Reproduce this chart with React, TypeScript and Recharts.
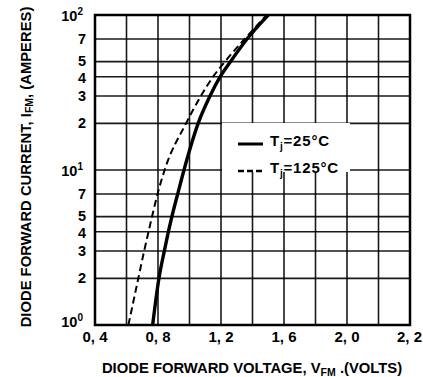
import React from 'react';
import { LineChart, Line, XAxis, YAxis, CartesianGrid, ReferenceArea, Legend, Label } from 'recharts';

// forward voltage (V) read at each current grid line
const currents = [1, 2, 3, 4, 5, 7, 10, 20, 30, 40, 50, 70, 100];
const tj25Voltage = [0.766, 0.806, 0.84, 0.866, 0.888, 0.925, 0.965, 1.055, 1.13, 1.195, 1.26, 1.365, 1.5];
const tj125Voltage = [0.612, 0.675, 0.712, 0.74, 0.762, 0.797, 0.842, 0.978, 1.072, 1.15, 1.225, 1.35, 1.49];

const xTicks = [0.4, 0.6, 0.8, 1.0, 1.2, 1.4, 1.6, 1.8, 2.0, 2.2, 2.4];
const xLabels: Record<string, string> = { '0.4': '0, 4', '0.8': '0, 8', '1.2': '1, 2', '1.6': '1, 6', '2': '2, 0', '2.4': '2, 2' };
const yTicks = [1, 2, 3, 4, 5, 7, 10, 20, 30, 40, 50, 70, 100];

const FONT = '"Liberation Sans", Arial, Helvetica, sans-serif';

const toRows = (volts: number[]) => volts.map((v, i) => ({ v, i: currents[i] }));
const tj25Data = toRows(tj25Voltage);
const tj125Data = toRows(tj125Voltage);

const XTick = (props: any) => {
    const { x, y, payload } = props;
    const key = String(Number(payload.value.toFixed(1)));
    const text = xLabels[key];
    if (!text) return null;
    const last = key === '2.4';
    return (
        <text
            x={last ? 422 : x}
            y={y + 17}
            textAnchor={last ? 'end' : 'middle'}
            fontFamily={FONT}
            fontSize={15}
            fontWeight="bold"
            fill="#000"
        >
            {text}
        </text>
    );
};

const YTick = (props: any) => {
    const { x, y, payload } = props;
    const val = payload.value;
    const exps: Record<number, string> = { 1: '0', 10: '1', 100: '2' };
    if (exps[val] !== undefined) {
        const shift = val === 1 ? -3 : 1;
        return (
            <text x={x - 12} y={y + 5 + shift} textAnchor="end" fontFamily={FONT} fontSize={14.5} fontWeight="bold" fill="#000">
                <tspan>10</tspan>
                <tspan dy={-6} fontSize={10}>{exps[val]}</tspan>
            </text>
        );
    }
    const nudge = val === 5 || val === 50 ? -1 : val === 4 || val === 40 ? 1.5 : 0;
    return (
        <text x={x - 9} y={y + 5 + nudge} textAnchor="end" fontFamily={FONT} fontSize={14.5} fontWeight="bold" fill="#000">
            {String(val)[0]}
        </text>
    );
};

const legendText: React.CSSProperties = { marginLeft: 7, letterSpacing: 0.8 };

const renderLegend = () => (
    <div style={{ fontFamily: FONT, fontSize: 15, fontWeight: 'bold', color: '#000', lineHeight: '21px', paddingTop: 7 }}>
        <div style={{ display: 'flex', alignItems: 'center' }}>
            <svg width={41} height={8}>
                <line x1={16} y1={4} x2={41} y2={4} stroke="#000" strokeWidth={3} />
            </svg>
            <span style={legendText}>T<sub style={{ fontSize: 10 }}>j</sub>=25°C</span>
        </div>
        <div style={{ display: 'flex', alignItems: 'center' }}>
            <svg width={41} height={8}>
                <line x1={16} y1={4} x2={41} y2={4} stroke="#000" strokeWidth={2.5} strokeDasharray="6 3" />
            </svg>
            <span style={legendText}>T<sub style={{ fontSize: 10 }}>j</sub>=125°C</span>
        </div>
    </div>
);

const App: React.FC = () => {
    return (
        <div style={{ position: 'fixed', left: 0, top: 0, width: 423, height: 377, overflow: 'hidden', background: '#fff' }}>
            <LineChart width={423} height={377} margin={{ top: 15, right: 13, left: 35, bottom: 22 }}>
                <CartesianGrid stroke="#000" strokeWidth={1.6} strokeOpacity={0.9} />
                <XAxis
                    dataKey="v"
                    type="number"
                    domain={[0.4, 2.4]}
                    ticks={xTicks}
                    interval={0}
                    allowDataOverflow
                    height={30}
                    tickSize={0}
                    tickMargin={0}
                    axisLine={false}
                    tick={<XTick />}
                >
                    <Label
                        content={() => (
                            <text x={252} y={373} textAnchor="middle" fontFamily={FONT} fontSize={14.8} fontWeight="bold" fill="#000">
                                <tspan>DIODE FORWARD VOLTAGE, V</tspan>
                                <tspan dy={3} fontSize={10.5}>FM</tspan>
                                <tspan dy={-3}> .(VOLTS)</tspan>
                            </text>
                        )}
                    />
                </XAxis>
                <YAxis
                    dataKey="i"
                    type="number"
                    scale="log"
                    domain={[1, 100]}
                    ticks={yTicks}
                    interval={0}
                    allowDataOverflow
                    width={60}
                    tickSize={0}
                    tickMargin={0}
                    axisLine={false}
                    tick={<YTick />}
                >
                    <Label
                        content={() => (
                            <text
                                x={26}
                                y={167}
                                transform="rotate(-90 26 167)"
                                textAnchor="middle"
                                dominantBaseline="central"
                                fontFamily={FONT}
                                fontSize={14.8}
                                fontWeight="bold"
                                fill="#000"
                            >
                                <tspan>DIODE FORWARD CURRENT, I</tspan>
                                <tspan dy={3} fontSize={10.5}>FM</tspan>
                                <tspan dy={-3}>, (AMPERES)</tspan>
                            </text>
                        )}
                    />
                </YAxis>
                <ReferenceArea x1={0.4} x2={2.4} y1={1} y2={100} fill="none" stroke="#000" strokeWidth={2.5} ifOverflow="visible" />
                <Line
                    data={tj125Data}
                    dataKey="i"
                    type="monotone"
                    stroke="#000"
                    strokeWidth={2}
                    strokeDasharray="7 4"
                    dot={false}
                    isAnimationActive={false}
                />
                <Line
                    data={tj25Data}
                    dataKey="i"
                    type="monotone"
                    stroke="#000"
                    strokeWidth={3.4}
                    dot={false}
                    isAnimationActive={false}
                />
                <Legend
                    layout="horizontal"
                    verticalAlign="middle"
                    align="center"
                    content={renderLegend}
                    wrapperStyle={{ left: 222, top: 123, width: 128, height: 49, background: '#fff' }}
                />
            </LineChart>
        </div>
    );
};

export default App;
